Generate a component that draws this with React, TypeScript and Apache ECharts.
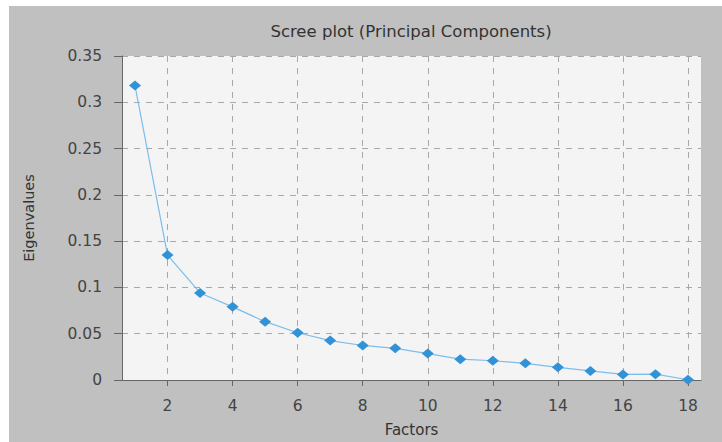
import React, { useEffect, useRef } from "react";
import * as echarts from "echarts";

const factors = [1, 2, 3, 4, 5, 6, 7, 8, 9, 10, 11, 12, 13, 14, 15, 16, 17, 18];
const eigenvalues = [
  0.318, 0.135, 0.094, 0.079, 0.063, 0.051, 0.0426, 0.0373, 0.0342, 0.0285,
  0.0225, 0.0208, 0.018, 0.0137, 0.0098, 0.006, 0.0063, 0.0003,
];
const xTickValues = [2, 4, 6, 8, 10, 12, 14, 16, 18];
const titleText = "Scree plot (Principal Components)";
const xAxisName = "Factors";
const yAxisName = "Eigenvalues";

const FONT = "DejaVu Sans";

export default function App() {
  const ref = useRef<HTMLDivElement>(null);
  useEffect(() => {
    if (!ref.current) return;
    const chart = echarts.init(ref.current, undefined, { renderer: "svg" });
    const gridDash = { type: [6, 6] as any, color: "#a8a8a8", width: 1 };
    chart.setOption({
      animation: false,
      backgroundColor: "#ffffff",
      graphic: [
        {
          type: "rect",
          z: -10,
          shape: { x: 9, y: 6, width: 713, height: 436 },
          style: { fill: "#c0c0c0" },
        },
      ],
      title: {
        text: titleText,
        left: 411,
        top: 23,
        textAlign: "center",
        padding: 0,
        textStyle: { fontFamily: FONT, fontSize: 16.5, fontWeight: "normal", color: "#333" },
      },
      grid: {
        left: 122,
        top: 56,
        right: 21,
        bottom: 55,
        show: true,
        backgroundColor: "#f4f4f4",
        borderWidth: 0,
      },
      xAxis: {
        type: "value",
        min: 0.6,
        max: 18.4,
        name: xAxisName,
        nameLocation: "middle",
        nameGap: 42,
        nameTextStyle: { fontFamily: FONT, fontSize: 15, color: "#333" },
        axisLine: { show: true, lineStyle: { color: "#666", width: 1 } },
        axisTick: { show: true, length: 6, customValues: xTickValues, lineStyle: { color: "#666" } },
        axisLabel: {
          customValues: xTickValues,
          margin: 18,
          fontFamily: FONT,
          fontSize: 15.5,
          color: "#444",
        },
        splitLine: { show: true, lineStyle: gridDash },
      },
      yAxis: {
        type: "value",
        min: 0,
        max: 0.35,
        interval: 0.05,
        name: yAxisName,
        nameLocation: "middle",
        nameGap: 86,
        nameTextStyle: { fontFamily: FONT, fontSize: 14.5, color: "#333" },
        axisLine: { show: true, lineStyle: { color: "#666", width: 1 } },
        axisTick: { show: true, length: 8, lineStyle: { color: "#666" } },
        axisLabel: {
          margin: 20,
          fontFamily: FONT,
          fontSize: 15.5,
          color: "#444",
        },
        splitLine: { show: true, lineStyle: gridDash },
      },
      series: [
        {
          type: "line",
          data: factors.map((f, i) => [f, eigenvalues[i]]),
          symbol: "diamond",
          symbolSize: [12, 10],
          itemStyle: { color: "#3192d6" },
          lineStyle: { color: "#7dbde9", width: 1.2 },
        },
      ],
    });
    return () => chart.dispose();
  }, []);
  return (
    <div
      ref={ref}
      style={{ position: "fixed", left: 0, top: 0, width: 722, height: 442 }}
    />
  );
}
